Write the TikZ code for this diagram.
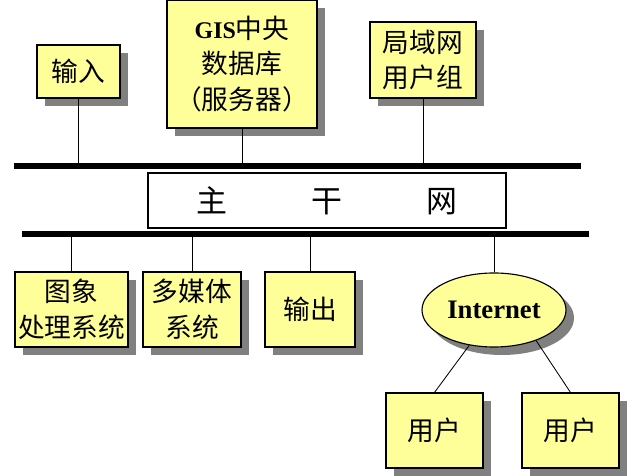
\documentclass[tikz,border=0pt]{standalone}
\usepackage{fontspec}
\setmainfont{Liberation Serif}
\newfontfamily\cjk{Noto Sans CJK SC}
\usetikzlibrary{shapes.geometric,shadows}
\definecolor{giallino}{RGB}{255,255,153}
\newcommand{\latino}[1]{{\rmfamily\bfseries #1}}

\begin{document}
\begin{tikzpicture}[
  font=\cjk\fontsize{19}{25.5}\selectfont,
  blocco/.style={draw=black, line width=0.8pt, fill=giallino, align=center,
                 inner sep=2pt,
                 drop shadow={shadow xshift=0.2cm, shadow yshift=-0.2cm,
                              fill=black!50, opacity=1}},
  utente/.style={blocco, minimum width=2.425cm, minimum height=1.875cm},
  dorsale/.style={draw=black, line width=3.6pt},
  collegamento/.style={draw=black, line width=0.6pt}
]
\useasboundingbox (0,0) rectangle (15.7,11.9);

% ---- blocchi superiori ---------------------------------------------
\node[blocco, minimum width=2.075cm, minimum height=1.325cm] (ingresso) at (1.9625,10.1125) {输入};
\node[blocco, minimum width=3.75cm, minimum height=3.2cm] (gis) at (6.05,10.3)
  {{\fontsize{17}{25.5}\selectfont\latino{GIS}}中央\\数据库\\（服务器）};
\node[blocco, minimum width=2.65cm, minimum height=1.9cm] (lan) at (10.575,10.4) {局域网\\用户组};

% ---- rete principale -----------------------------------------------
\coordinate (dsup1) at (0.35,7.75);
\coordinate (dsup2) at (14.525,7.75);
\coordinate (dinf1) at (0.55,6.05);
\coordinate (dinf2) at (14.725,6.05);
\draw[dorsale] (dsup1) -- (dsup2);
\draw[dorsale] (dinf1) -- (dinf2);
\node[draw=black, line width=0.8pt, fill=white, minimum width=8.95cm, minimum height=1.375cm,
      font=\cjk\fontsize{22}{26}\selectfont] (dorso) at (8.175,6.8875)
  {主\hspace{2.1cm}干\hspace{2.1cm}网};

% ---- blocchi inferiori ---------------------------------------------
\node[blocco, minimum width=2.825cm, minimum height=1.875cm] (immagini) at (1.7875,4.1625) {图象\\处理系统};
\node[blocco, minimum width=2.45cm, minimum height=1.875cm] (multimedia) at (4.8,4.1625) {多媒体\\系统};
\node[blocco, minimum width=2.25cm, minimum height=1.875cm] (uscita) at (7.75,4.1625) {输出};
\node[blocco, ellipse, inner sep=0pt, minimum width=3.6cm, minimum height=1.85cm] (inet) at (12.35,4.15)
  {\latino{Internet}};
\node[utente] (utente1) at (10.8625,1.1375) {用户};
\node[utente] (utente2) at (14.2625,1.1375) {用户};

% ---- collegamenti --------------------------------------------------
\draw[collegamento] (ingresso.south) -- (ingresso.south |- dsup1);
\draw[collegamento] (gis.south) -- (gis.south |- dsup1);
\draw[collegamento] (lan.south) -- (lan.south |- dsup1);
\draw[collegamento] (immagini.north) -- (immagini.north |- dinf1);
\draw[collegamento] (multimedia.north) -- (multimedia.north |- dinf1);
\draw[collegamento] (uscita.north) -- (uscita.north |- dinf1);
\draw[collegamento] (inet.north) -- (inet.north |- dinf1);
\draw[collegamento] (inet.-125) -- (utente1.north);
\draw[collegamento] (inet.-36) -- (utente2.north);

\end{tikzpicture}
\end{document}
